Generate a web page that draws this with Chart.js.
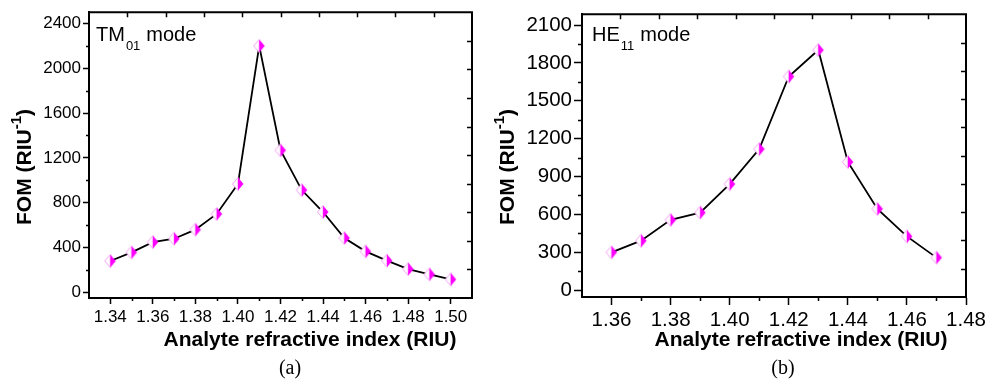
<!DOCTYPE html>
<html>
<head>
<meta charset="utf-8">
<script src="https://cdn.jsdelivr.net/npm/chart.js@4.4.0/dist/chart.umd.min.js"></script>
<style>
  body { margin: 0; background: #fff; }
  .wrap { position: relative; width: 989px; height: 380px; }
  canvas { position: absolute; top: 0; }
</style>
</head>
<body>
<div class="wrap">
  <canvas id="chartA" width="494" height="380" style="left:0"></canvas>
  <canvas id="chartB" width="495" height="380" style="left:494px"></canvas>
</div>
<script>
// (a) TM01 mode
const riA = [1.34, 1.35, 1.36, 1.37, 1.38, 1.39, 1.40, 1.41, 1.42, 1.43, 1.44, 1.45, 1.46, 1.47, 1.48, 1.49, 1.50];
const fomA = [280, 357, 449, 479, 560, 700, 968, 2199, 1268, 913, 717, 485, 366, 283, 208, 161, 116];
const xTicksA = [1.34, 1.36, 1.38, 1.40, 1.42, 1.44, 1.46, 1.48, 1.50];
const xMinorA = [1.35, 1.37, 1.39, 1.41, 1.43, 1.45, 1.47, 1.49];
const yTicksA = [0, 400, 800, 1200, 1600, 2000, 2400];
const yMinorA = [200, 600, 1000, 1400, 1800, 2200];

// (b) HE11 mode
const riB = [1.36, 1.37, 1.38, 1.39, 1.40, 1.41, 1.42, 1.43, 1.44, 1.45, 1.46, 1.47];
const fomB = [299, 391, 556, 614, 840, 1117, 1692, 1902, 1015, 643, 425, 257];
const xTicksB = [1.36, 1.38, 1.40, 1.42, 1.44, 1.46, 1.48];
const xMinorB = [1.37, 1.39, 1.41, 1.43, 1.45, 1.47];
const yTicksB = [0, 300, 600, 900, 1200, 1500, 1800, 2100];
const yMinorB = [150, 450, 750, 1050, 1350, 1650, 1950];

// half-filled diamond marker
function makeMarker() {
  const c = document.createElement("canvas");
  c.width = 14; c.height = 16;
  const g = c.getContext("2d");
  const cx = 7, cy = 8, w = 5.5, h = 6.5;
  g.beginPath(); g.moveTo(cx, cy - h); g.lineTo(cx - w, cy); g.lineTo(cx, cy + h); g.closePath();
  g.fillStyle = "#fff"; g.fill();
  g.strokeStyle = "#f5a3f5"; g.lineWidth = 1; g.stroke();
  g.beginPath(); g.moveTo(cx, cy - h); g.lineTo(cx + w, cy); g.lineTo(cx, cy + h); g.closePath();
  g.fillStyle = "#ff00ff"; g.fill();
  return c;
}
const marker = makeMarker();

// frame, minor ticks, mirrored ticks and texts
const deco = {
  id: "deco",
  afterDraw(chart) {
    const o = chart.options.plugins.deco;
    const { ctx, chartArea: a } = chart;
    const x = chart.scales.x, y = chart.scales.y;
    ctx.save();
    ctx.strokeStyle = "#000";
    ctx.lineWidth = 2;
    ctx.beginPath();
    ctx.moveTo(a.left, a.top); ctx.lineTo(a.right, a.top); ctx.lineTo(a.right, a.bottom);
    ctx.stroke();
    ctx.lineWidth = 1.5;
    ctx.beginPath();
    o.xMinor.forEach((v) => {
      const px = Math.round(x.getPixelForValue(v)) + 0.5;
      ctx.moveTo(px, a.bottom); ctx.lineTo(px, a.bottom + o.minorLen);
    });
    o.yMinor.forEach((v) => {
      const py = Math.round(y.getPixelForValue(v)) + 0.5;
      ctx.moveTo(a.left, py); ctx.lineTo(a.left - o.minorLen, py);
    });
    // top and right axes: 10 equal divisions, ticks pointing in
    for (let k = 1; k < 10; k++) {
      const px = Math.round(a.left + (a.right - a.left) * k / 10) + 0.5;
      ctx.moveTo(px, a.top); ctx.lineTo(px, a.top + 5);
      const py = Math.round(a.bottom - (a.bottom - a.top) * k / 10) + 0.5;
      ctx.moveTo(a.right, py); ctx.lineTo(a.right - 5, py);
    }
    ctx.stroke();

    ctx.fillStyle = "#000";
    ctx.textBaseline = "alphabetic";
    // mode label
    let tx = o.modeX;
    ctx.font = "20px 'Liberation Sans'";
    ctx.fillText(o.mode, tx, 41);
    tx += ctx.measureText(o.mode).width + 1;
    ctx.font = "13px 'Liberation Sans'";
    ctx.fillText(o.modeSub, tx, 50);
    tx += ctx.measureText(o.modeSub).width + 6;
    ctx.font = "20px 'Liberation Sans'";
    ctx.fillText("mode", tx, 41);

    // x title
    ctx.textAlign = "center";
    ctx.textBaseline = "middle";
    ctx.font = "bold 21px 'Liberation Sans'";
    ctx.fillText("Analyte refractive index (RIU)", o.xTitleX, 340);
    ctx.font = "20px 'Liberation Serif'";
    ctx.fillText(o.panel, o.panelX, 369);

    // y title with superscript
    ctx.save();
    ctx.translate(o.yTitleX, 167);
    ctx.rotate(-Math.PI / 2);
    ctx.textAlign = "left";
    const big = "bold 21px 'Liberation Sans'", small = "bold 15px 'Liberation Sans'";
    ctx.font = big;
    const w1 = ctx.measureText("FOM (RIU").width;
    const w3 = ctx.measureText(")").width;
    ctx.font = small;
    const w2 = ctx.measureText("-1").width;
    let sx = -(w1 + w2 + w3) / 2;
    ctx.font = big;
    ctx.fillText("FOM (RIU", sx, 0);
    sx += w1;
    ctx.font = small;
    ctx.fillText("-1", sx, -8);
    sx += w2;
    ctx.font = big;
    ctx.fillText(")", sx, 0);
    ctx.restore();
    ctx.restore();
  }
};

function makeChart(id, xs, ys, cfg) {
  const tickFont = { family: "'Liberation Sans'", size: cfg.tickSize };
  return new Chart(document.getElementById(id), {
    type: "line",
    data: {
      datasets: [{
        data: xs.map((v, i) => ({ x: v, y: ys[i] })),
        borderColor: "#000",
        borderWidth: 1.8,
        pointStyle: marker,
        pointRadius: 6,
        tension: 0
      }]
    },
    options: {
      responsive: false,
      animation: false,
      events: [],
      layout: { padding: { top: 12, right: cfg.padRight, left: 0, bottom: 0 } },
      plugins: { legend: { display: false }, tooltip: { enabled: false }, deco: cfg.deco },
      scales: {
        x: {
          type: "linear", min: cfg.xMin, max: cfg.xMax,
          afterBuildTicks: (s) => { s.ticks = cfg.xTicks.map((v) => ({ value: v })); },
          afterFit: (s) => { s.height = cfg.xHeight; },
          ticks: { callback: (v) => v.toFixed(2), font: tickFont, color: "#000", padding: 3, maxRotation: 0, autoSkip: false },
          grid: { drawOnChartArea: false, tickLength: cfg.tickLen, tickWidth: 1.5, tickColor: "#000" },
          border: { color: "#000", width: 2 }
        },
        y: {
          min: cfg.yMin, max: cfg.yMax,
          afterBuildTicks: (s) => { s.ticks = cfg.yTicks.map((v) => ({ value: v })); },
          afterFit: (s) => { s.width = cfg.yWidth; },
          ticks: { callback: (v) => String(v), font: tickFont, color: "#000", padding: 2, autoSkip: false },
          grid: { drawOnChartArea: false, tickLength: cfg.tickLen, tickWidth: 1.5, tickColor: "#000" },
          border: { color: "#000", width: 2 }
        }
      }
    },
    plugins: [deco]
  });
}

makeChart("chartA", riA, fomA, {
  xMin: 1.33, xMax: 1.51, yMin: -50, yMax: 2500,
  xTicks: xTicksA, yTicks: yTicksA, tickSize: 17, tickLen: 6,
  padRight: 22, xHeight: 82, yWidth: 89,
  deco: { xMinor: xMinorA, yMinor: yMinorA, minorLen: 3, mode: "TM", modeSub: "01", modeX: 96,
          xTitleX: 310, panel: "(a)", panelX: 290, yTitleX: 25 }
});

makeChart("chartB", riB, fomB, {
  xMin: 1.35, xMax: 1.48, yMin: -55, yMax: 2185,
  xTicks: xTicksB, yTicks: yTicksB, tickSize: 20.5, tickLen: 8,
  padRight: 23, xHeight: 83, yWidth: 88,
  deco: { xMinor: xMinorB, yMinor: yMinorB, minorLen: 4, mode: "HE", modeSub: "11", modeX: 98,
          xTitleX: 307, panel: "(b)", panelX: 289, yTitleX: 14 }
});
</script>
</body>
</html>
